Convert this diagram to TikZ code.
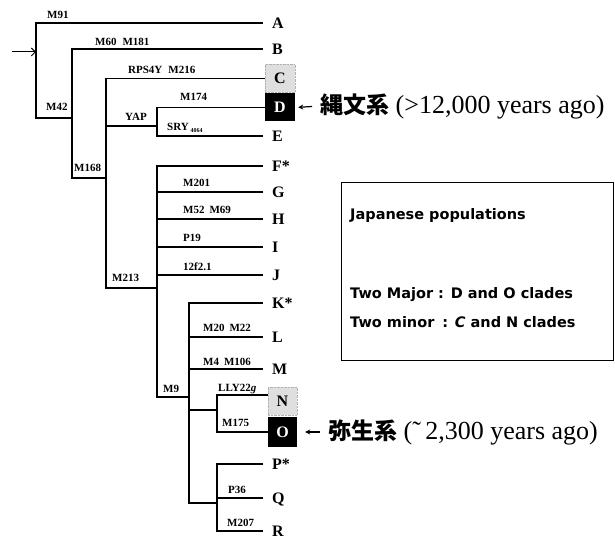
\documentclass[tikz,border=0pt]{standalone}
\usepackage{fontspec}
\setmainfont{Liberation Serif}
\newfontfamily\cjkfont{Noto Sans CJK JP}
\newfontfamily\legfont{DejaVu Sans}
\usetikzlibrary{arrows.meta,patterns}
\begin{document}
\begin{tikzpicture}[x=1pt,y=-1pt,
  br/.style={line width=1.3pt},
  leaf/.style={anchor=west, inner xsep=9pt, inner ysep=0pt, text height=11pt, text depth=0pt,
    font=\bfseries\fontsize{16}{16}\selectfont},
  boxleaf/.style={minimum width=30pt, minimum height=28pt, inner sep=0pt,
    font=\bfseries\fontsize{16}{16}\selectfont},
  minorbox/.style={boxleaf, fill=gray!25, draw=gray!60, densely dotted},
  majorbox/.style={boxleaf, fill=black, text=white},
  mut/.style={anchor=west, inner sep=0pt, text height=7.5pt, text depth=0pt,
    font=\bfseries\fontsize{11}{12}\selectfont},
  note/.style={anchor=west, inner sep=0pt, font=\fontsize{26}{28}\selectfont},
  leg/.style={anchor=west, inner sep=0pt, font=\legfont\bfseries\fontsize{14.5}{15}\selectfont},
  pointer/.style={line width=1.2pt, -{Stealth[length=5pt,width=5pt]}}
]
\useasboundingbox (0,0) rectangle (615,540);

% leaves
\node[leaf] (A) at (263,23) {A};
\node[leaf] (B) at (263,49) {B};
\node[minorbox] (C) at (280,78.5) {C};
\node[majorbox] (D) at (280,107.5) {D};
\node[leaf] (E) at (263,136) {E};
\node[leaf] (F) at (263,166) {F*};
\node[leaf] (G) at (263,192) {G};
\node[leaf] (H) at (263,219) {H};
\node[leaf] (I) at (263,247) {I};
\node[leaf] (J) at (263,275) {J};
\node[leaf] (K) at (263,303) {K*};
\node[leaf] (L) at (263,337) {L};
\node[leaf] (M) at (263,369) {M};
\node[minorbox,minimum width=29pt] (N) at (282.5,401) {N};
\node[majorbox,minimum width=29pt,minimum height=30pt] (O) at (282.5,432) {O};
\node[leaf] (P) at (263,464) {P*};
\node[leaf] (Q) at (263,498) {Q};
\node[leaf] (R) at (263,531) {R};

% branch points
\coordinate (start) at (12,52);
\coordinate (rootA) at (36,52);
\coordinate (r2) at (36,118);
\coordinate (b42) at (72,118);
\coordinate (b168) at (72,178);
\coordinate (c168) at (106,178);
\coordinate (m213L) at (106,288);
\coordinate (m213R) at (157,288);
\coordinate (yapL) at (106,126);
\coordinate (yapR) at (157,126);
\coordinate (deB) at (157,136);
\coordinate (m9L) at (157,397);
\coordinate (m9R) at (189,397);
\coordinate (pq) at (189,503);
\coordinate (pqR) at (217,503);
\coordinate (noL) at (189,410);
\coordinate (noR) at (217,410);
\coordinate (nb) at (217,395);

% tree
\draw[br] (A.west) -| (r2) -- (b42);
\draw[br] (B.west) -| (b168) -- (c168);
\draw[br] (C.west) -| (m213L) -- (m213R);
\draw[br] (yapL) -- (yapR);
\draw[br] (D.west) -| (deB) -- (E.west);
\draw[br] (F.west) -| (m9L) -- (m9R);
\draw[br] (G.west) -- (G.west -| m9L);
\draw[br] (H.west) -- (H.west -| m9L);
\draw[br] (I.west) -- (I.west -| m9L);
\draw[br] (J.west) -- (J.west -| m9L);
\draw[br] (K.west) -| (pq) -- (pqR);
\draw[br] (L.west) -- (L.west -| pq);
\draw[br] (M.west) -- (M.west -| pq);
\draw[br] (noL) -- (noR);
\draw[br] (nb -| N.west) -- (nb) |- (O.west);
\draw[br] (P.west) -| (R.west -| pqR) -- (R.west);
\draw[br] (Q.west) -- (Q.west -| pqR);
\draw[line width=1pt, -{Straight Barb[length=4pt,width=8pt]}] (start) -- (rootA);

% mutation labels
\node[mut] (l91) at (47,15) {M91};
\node[mut] (l60) at (95,42) {M60\hspace{6pt}M181};
\node[mut] (lrps) at (128,70) {RPS4Y\hspace{6pt}M216};
\node[mut] (l174) at (180,97) {M174};
\node[mut] (lyap) at (125,117) {YAP};
\node[mut] (lsry) at (167,127) {SRY\,\raisebox{-2pt}{\fontsize{6}{6}\selectfont 4064}};
\node[mut] (l42) at (46,107) {M42};
\node[mut] (l168) at (74,168) {M168};
\node[mut] (l201) at (183,183) {M201};
\node[mut] (l52) at (183,210) {M52\hspace{5pt}M69};
\node[mut] (l19) at (183,238) {P19};
\node[mut] (l12) at (183,267) {12f2.1};
\node[mut] (l213) at (112,278) {M213};
\node[mut] (l20) at (203,328) {M20\hspace{5pt}M22};
\node[mut] (l4) at (203,362) {M4\hspace{5pt}M106};
\node[mut] (l9) at (163,389) {M9};
\node[mut] (llly) at (218,388) {LLY22\textit{g}};
\node[mut] (l175) at (222,423) {M175};
\node[mut] (l36) at (228,490) {P36};
\node[mut] (l207) at (227,523) {M207};

% annotations
\node[note] (jomon) at (320,106) {{\cjkfont\bfseries\fontsize{23}{25}\selectfont 縄文系} (>12,000 years ago)};
\node[note] (yayoi) at (328,432) {{\cjkfont\bfseries\fontsize{23}{25}\selectfont 弥生系} (˜\,2,300 years ago)};
\draw[pointer, shorten <=8pt, shorten >=3pt] (jomon.west) -- (D.east);
\draw[pointer, shorten <=8pt, shorten >=8pt] (yayoi.west) -- (O.east);

% legend
\node[draw, line width=0.8pt, minimum width=272pt, minimum height=178pt, anchor=north west, inner sep=0pt] (legend) at (341,182) {};
\node[leg] (lg1) at (350,215) {Japanese populations};
\node[leg] (lg2) at (350,295) {Two Major : D and O clades};
\node[leg] (lg3) at (350,322) {Two minor\hspace{8pt}: \textit{C} and N clades};
\end{tikzpicture}
\end{document}
